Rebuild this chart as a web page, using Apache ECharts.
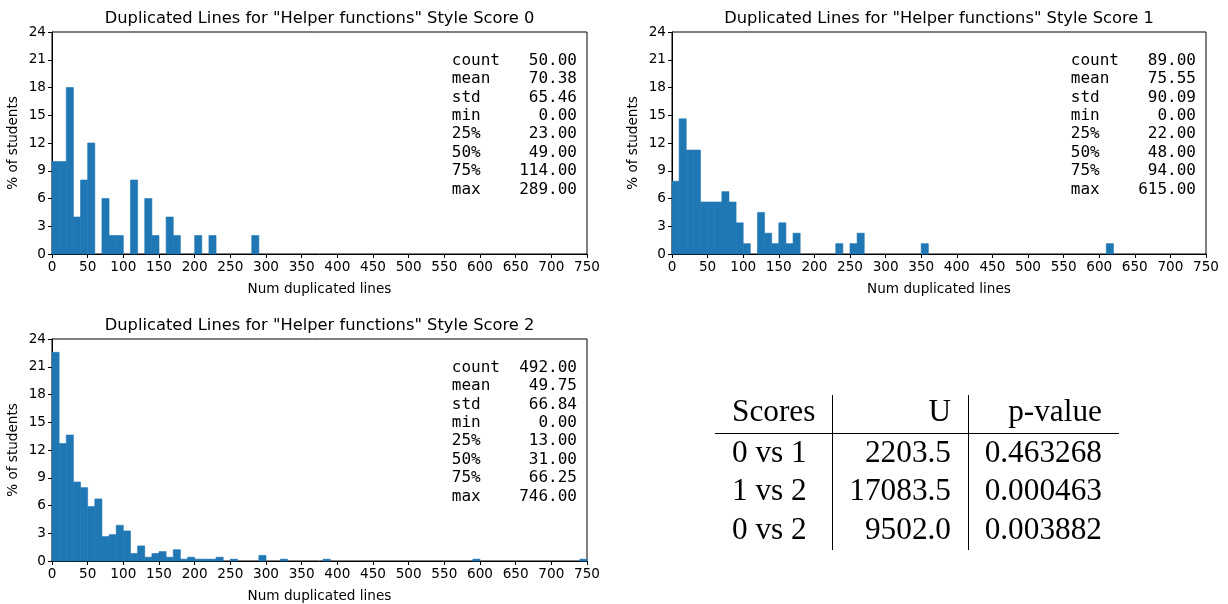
<!DOCTYPE html>
<html>
<head>
<meta charset="utf-8">
<script src="https://cdn.jsdelivr.net/npm/echarts@6/dist/echarts.min.js"></script>
<style>
html,body{margin:0;padding:0;background:#fff;}
#chart{width:1228px;height:604px;}
</style>
</head>
<body>
<div id="chart"></div>
<script>
// ---- Data ----
const binWidth = 10;
const titles = [
  'Duplicated Lines for "Helper functions" Style Score 0',
  'Duplicated Lines for "Helper functions" Style Score 1',
  'Duplicated Lines for "Helper functions" Style Score 2'
];
// score 0 histogram: bin starts and % of students
const score0Bins = [0, 10, 20, 30, 40, 50, 70, 80, 90, 110, 130, 140, 160, 170, 200, 220, 280];
const score0Pct  = [10, 10, 18, 4, 8, 12, 6, 2, 2, 8, 6, 2, 4, 2, 2, 2, 2];
// score 1
const score1Bins = [0, 10, 20, 30, 40, 50, 60, 70, 80, 90, 100, 120, 130, 140, 150, 160, 170, 230, 250, 260, 350, 610];
const score1Pct  = [7.87, 14.61, 11.24, 11.24, 5.62, 5.62, 5.62, 6.74, 5.62, 3.37, 1.12, 4.49, 2.25, 1.12, 3.37, 1.12, 2.25, 1.12, 1.12, 2.25, 1.12, 1.12];
// score 2
const score2Bins = [0, 10, 20, 30, 40, 50, 60, 70, 80, 90, 100, 110, 120, 130, 140, 150, 160, 170, 180, 190, 200, 210, 220, 230, 250, 290, 320, 380, 590, 740];
const score2Pct  = [22.56, 12.7, 13.62, 8.54, 7.93, 5.89, 6.71, 2.64, 2.85, 3.86, 3.25, 0.81, 1.63, 0.41, 0.81, 1.02, 0.41, 1.22, 0.2, 0.41, 0.2, 0.2, 0.2, 0.41, 0.2, 0.61, 0.2, 0.2, 0.2, 0.2];

const statLabels = ['count', 'mean', 'std', 'min', '25%', '50%', '75%', 'max'];
const stats0 = ['50.00', '70.38', '65.46', '0.00', '23.00', '49.00', '114.00', '289.00'];
const stats1 = ['89.00', '75.55', '90.09', '0.00', '22.00', '48.00', '94.00', '615.00'];
const stats2 = ['492.00', '49.75', '66.84', '0.00', '13.00', '31.00', '66.25', '746.00'];

const tableHeader = ['Scores', 'U', 'p-value'];
const tableScores = ['0 vs 1', '1 vs 2', '0 vs 2'];
const tableU      = ['2203.5', '17083.5', '9502.0'];
const tableP      = ['0.463268', '0.000463', '0.003882'];

const xTickInterval = 50;
const yTickInterval = 3;

// ---- Build ----
const BAR = '#1f77b4';
const FONT = '"DejaVu Sans", sans-serif';
const grids = [
  {left: 52, top: 32, width: 535, height: 222},
  {left: 672, top: 32, width: 534, height: 222},
  {left: 52, top: 339, width: 535, height: 223}
];
const binsAll = [score0Bins, score1Bins, score2Bins];
const pctAll = [score0Pct, score1Pct, score2Pct];
const statsAll = [stats0, stats1, stats2];

function statText(vals) {
  return statLabels.map((l, i) => l.padEnd(5, ' ') + vals[i].padStart(8, ' ')).join('\n');
}

const option = {
  animation: false,
  backgroundColor: '#fff',
  grid: grids.map(g => Object.assign({show: true, borderColor: '#000', borderWidth: 1, backgroundColor: 'transparent'}, g)),
  xAxis: grids.map((g, i) => ({
    type: 'value', gridIndex: i, min: 0, max: 750, interval: xTickInterval,
    name: 'Num duplicated lines', nameLocation: 'middle', nameGap: 28,
    nameTextStyle: {fontFamily: FONT, fontSize: 13.6, color: '#000'},
    axisLine: {show: true, onZero: false, lineStyle: {color: '#000', width: 1}},
    axisTick: {show: true, length: 4, lineStyle: {color: '#000'}},
    axisLabel: {fontFamily: FONT, fontSize: 13.6, color: '#000', margin: 6, showMaxLabel: true, showMinLabel: true},
    splitLine: {show: false}
  })),
  yAxis: grids.map((g, i) => ({
    type: 'value', gridIndex: i, min: 0, max: 24, interval: yTickInterval,
    name: '% of students', nameLocation: 'middle', nameGap: 32,
    nameTextStyle: {fontFamily: FONT, fontSize: 13.6, color: '#000'},
    axisLine: {show: true, onZero: false, lineStyle: {color: '#000', width: 1}},
    axisTick: {show: true, length: 4, lineStyle: {color: '#000'}},
    axisLabel: {fontFamily: FONT, fontSize: 13.6, color: '#000', margin: 6},
    splitLine: {show: false}
  })),
  series: binsAll.map((bins, i) => ({
    type: 'custom', xAxisIndex: i, yAxisIndex: i,
    encode: {x: [0, 1], y: 2},
    data: bins.map((b, k) => [b, b + binWidth, pctAll[i][k]]),
    renderItem: function (params, api) {
      const p0 = api.coord([api.value(0), api.value(2)]);
      const p1 = api.coord([api.value(1), 0]);
      return {type: 'rect', shape: {x: p0[0], y: p0[1], width: p1[0] - p0[0], height: p1[1] - p0[1]},
        style: {fill: BAR, stroke: BAR, lineWidth: 0.6}};
    }
  })),
  graphic: []
};

// titles and stats
grids.forEach((g, i) => {
  option.graphic.push({
    type: 'text', x: g.left + g.width / 2, y: g.top - 13,
    style: {text: titles[i], font: '16.3px ' + FONT, fill: '#000', align: 'center', verticalAlign: 'middle'}
  });
  option.graphic.push({
    type: 'text', x: g.left + g.width - 10, y: g.top + 19.5,
    style: {text: statText(statsAll[i]), font: '16px "DejaVu Sans Mono", monospace', fill: '#000', align: 'right', verticalAlign: 'top', lineHeight: 18.4}
  });
});

// table
const SERIF = '"Liberation Serif", "Times New Roman", serif';
const colLeft = 732, uRight = 951, pRight = 1102;
const rowY = [413, 453.5, 492, 530.5];
function tText(txt, x, y, align) {
  option.graphic.push({type: 'text', x: x, y: y, style: {text: txt, font: '31.3px ' + SERIF, fill: '#000', align: align, verticalAlign: 'middle'}});
}
tText(tableHeader[0], colLeft, rowY[0], 'left');
tText(tableHeader[1], uRight, rowY[0], 'right');
tText(tableHeader[2], pRight, rowY[0], 'right');
tableScores.forEach((s, k) => {
  tText(s, colLeft, rowY[k + 1], 'left');
  tText(tableU[k], uRight, rowY[k + 1], 'right');
  tText(tableP[k], pRight, rowY[k + 1], 'right');
});
option.graphic.push({type: 'line', shape: {x1: 715, y1: 433.5, x2: 1119, y2: 433.5}, style: {stroke: '#000', lineWidth: 1}});
option.graphic.push({type: 'line', shape: {x1: 832.5, y1: 395, x2: 832.5, y2: 550}, style: {stroke: '#000', lineWidth: 1}});
option.graphic.push({type: 'line', shape: {x1: 968.5, y1: 395, x2: 968.5, y2: 550}, style: {stroke: '#000', lineWidth: 1}});

const chart = echarts.init(document.getElementById('chart'));
chart.setOption(option);
</script>
</body>
</html>
